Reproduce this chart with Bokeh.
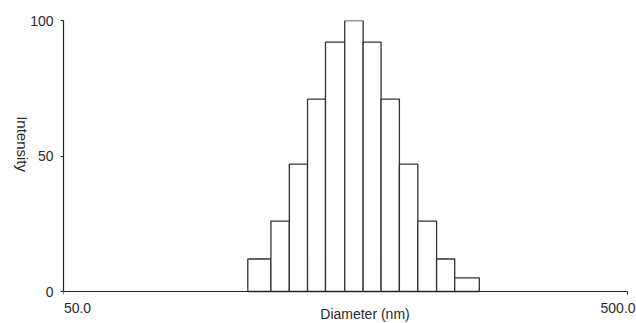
import math
from bokeh.plotting import figure
from bokeh.models import Range1d, FixedTicker, Label, ColumnDataSource
from bokeh.embed import file_html
from bokeh.resources import INLINE

# Bin edges (nm) and intensity per bin
bin_edges = [106.1, 116.6, 125.7, 135.4, 145.7, 157.6, 169.9, 182.8, 197.0, 212.4, 229.3, 246.9, 273.0]
intensity = [12, 26, 47, 71, 92, 100, 92, 71, 47, 26, 12, 5]
x_ticks = [50, 500]
x_tick_labels = ["50.0", "500.0"]
y_ticks = [0, 50, 100]

FONT = "Liberation Sans"
TXT = "#2a2a2a"

src = ColumnDataSource(dict(left=bin_edges[:-1], right=bin_edges[1:],
                            top=intensity, bottom=[0] * len(intensity)))

# frame extended to the right/bottom edges so that texts placed there are not clipped
p = figure(width=636, height=323, x_axis_type="log",
           x_range=Range1d(50, 518.6), y_range=Range1d(-11.8, 100),
           output_backend="svg", toolbar_location=None,
           min_border_left=63, min_border_right=0,
           min_border_top=20, min_border_bottom=0)

p.quad(left="left", right="right", top="top", bottom="bottom", source=src,
       fill_color="white", line_color="#333333", line_width=1.3)

p.outline_line_color = None
p.xgrid.visible = False
p.ygrid.visible = False
p.background_fill_color = "white"
p.border_fill_color = "white"

for ax in (p.xaxis[0], p.yaxis[0]):
    ax.axis_line_color = "#222222"
    ax.axis_line_width = 1.2
    ax.major_tick_line_color = "#222222"
    ax.major_tick_in = 0
    ax.major_tick_out = 3
    ax.minor_tick_line_color = None
    ax.major_label_text_font = FONT
    ax.major_label_text_font_size = "14px"
    ax.major_label_text_color = TXT

p.xaxis.ticker = FixedTicker(ticks=x_ticks)
p.xaxis.bounds = (x_ticks[0], x_ticks[-1])
p.xaxis.fixed_location = 0
p.xaxis.major_label_overrides = {t: "" for t in x_ticks}
p.xaxis.major_label_text_font_size = "0px"

p.yaxis.ticker = FixedTicker(ticks=y_ticks)
p.yaxis.bounds = (y_ticks[0], y_ticks[-1])
p.yaxis.major_label_standoff = 7
p.yaxis.axis_label = "Intensity"
p.yaxis.axis_label_orientation = -math.pi / 2
p.yaxis.axis_label_standoff = 5
p.yaxis.axis_label_text_font = FONT
p.yaxis.axis_label_text_font_size = "15px"
p.yaxis.axis_label_text_font_style = "normal"
p.yaxis.axis_label_text_color = TXT

# x tick labels (offset as in the original)
p.add_layout(Label(x=x_ticks[0], y=-5.9, x_offset=14, text=x_tick_labels[0],
                   text_align="center", text_baseline="middle",
                   text_font=FONT, text_font_size="14px", text_color=TXT))
p.add_layout(Label(x=x_ticks[1], y=-5.9, x_offset=-9.5, text=x_tick_labels[1],
                   text_align="center", text_baseline="middle",
                   text_font=FONT, text_font_size="14px", text_color=TXT))
# x axis title
p.add_layout(Label(x=x_ticks[0], y=-8.4, x_offset=301.5, text="Diameter (nm)",
                   text_align="center", text_baseline="middle",
                   text_font=FONT, text_font_size="14px", text_color=TXT))

open("out.html", "w").write(file_html(p, INLINE))
